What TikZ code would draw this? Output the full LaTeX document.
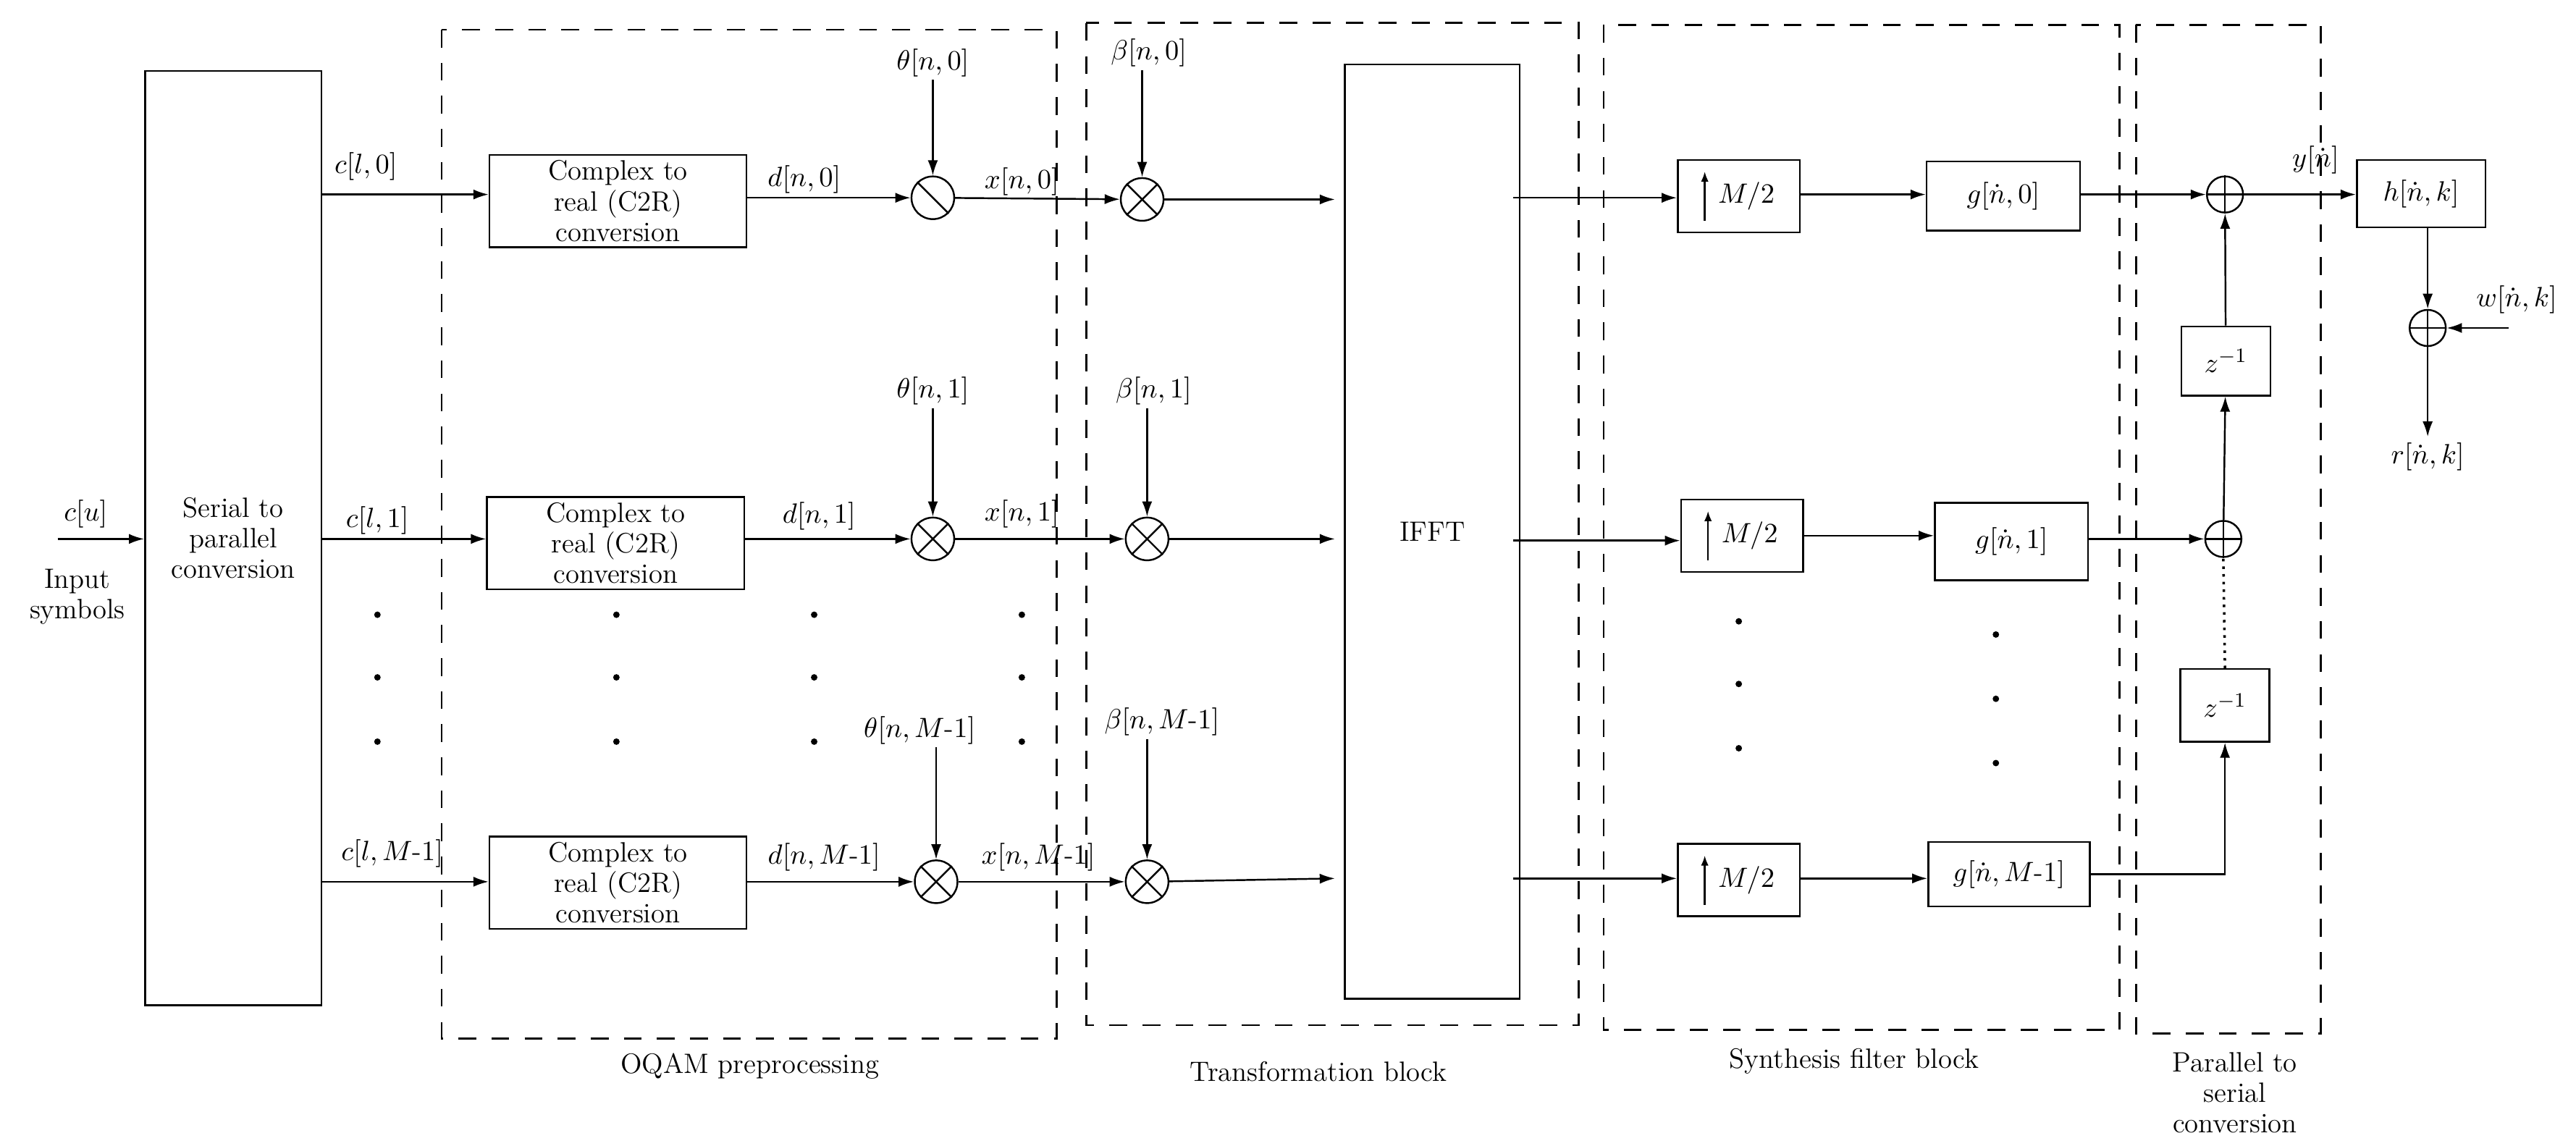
\documentclass[tikz,border=0pt]{standalone}
\usetikzlibrary{arrows.meta}
\newcommand{\mo}{\mbox{-}}
\newcommand{\fs}{\fontsize{11}{12}\selectfont}
\begin{document}
\begin{tikzpicture}[x=0.02277cm,y=-0.02277cm,line width=0.7pt,
  box/.style={draw,rectangle,inner sep=0pt,align=center,font=\fs},
  arr/.style={-{Latex[length=6pt,width=4pt]}},
  circ/.style={draw,circle,minimum size=0.59cm,inner sep=0pt},
  lab/.style={font=\fs,inner sep=1pt},
  dsh/.style={dash pattern=on 7pt off 6pt,line width=0.8pt},
  dot/.style={circle,fill,inner sep=0.9pt}]
\useasboundingbox (0,0) rectangle (1563,692);
% dashed blocks
\draw[dsh] (268,18) rectangle (641,630);
\draw[dsh] (659,14) rectangle (958,622);
\draw[dsh] (973,15) rectangle (1286,625);
\draw[dsh] (1296,15) rectangle (1408,627);
\node[lab] (l1) at (455,647) {OQAM preprocessing};
\node[lab] (l2) at (800,650) {Transformation block};
\node[lab] (l3) at (1125,644) {Synthesis filter block};
\node[lab,align=center] (l4) at (1356,663) {Parallel to\\serial\\conversion};
% S/P
\node[box,minimum width=107*0.02277cm,minimum height=567*0.02277cm] (sp) at (141.5,326.5) {Serial to\\parallel\\conversion};
\coordinate (in) at (35,327);
\draw[arr] (in) -- (in -| sp.west);
\node[lab] (cu) at (52,312) {$c[u]$};
\node[lab,align=center] (is) at (47,362) {Input\\symbols};
% C2R boxes
\foreach \n/\x/\y in {c0/375/122,c1/373.5/329.5,c2/375/535.5}
  \node[box,minimum width=156*0.02277cm,minimum height=56*0.02277cm] (\n) at (\x,\y) {Complex to\\real (C2R)\\conversion};
\draw[arr] (sp.east |- 0,118) -- (c0.west |- 0,118);
\draw[arr] (sp.east |- 0,327) -- (c1.west |- 0,327);
\draw[arr] (sp.east |- 0,535) -- (c2.west |- 0,535);
\node[lab] at (222,101) {$c[l,0]$};
\node[lab] at (229,316) {$c[l,1]$};
\node[lab] at (238,518) {$c[l,M\mo1]$};
% theta circles
\node[circ] (t0) at (566,120) {};
\draw (t0.north west) -- (t0.south east);
\node[circ] (t1) at (566,327) {};
\node[circ] (t2) at (568,535) {};
\foreach \t in {t1,t2} \draw (\t.north west) -- (\t.south east) (\t.north east) -- (\t.south west);
\draw[arr] (c0.east |- t0) -- (t0);
\draw[arr] (c1.east |- t1) -- (t1);
\draw[arr] (c2.east |- t2) -- (t2);
\node[lab] at (488,109) {$d[n,0]$};
\node[lab] at (497,313) {$d[n,1]$};
\node[lab] at (500,520) {$d[n,M\mo1]$};
\node[lab] (th0) at (566,38) {$\theta[n,0]$};
\node[lab] (th1) at (566,237) {$\theta[n,1]$};
\node[lab] (th2) at (558,443) {$\theta[n,M\mo1]$};
\draw[arr] (th0.south -| t0) -- (t0);
\draw[arr] (th1.south -| t1) -- (t1);
\draw[arr] (th2.south -| t2) -- (t2);
% beta multipliers
\node[circ] (b0) at (693,121) {};
\node[circ] (b1) at (696,327) {};
\node[circ] (b2) at (696,535) {};
\foreach \t in {b0,b1,b2} \draw (\t.north west) -- (\t.south east) (\t.north east) -- (\t.south west);
\draw[arr] (t0) -- (b0);
\draw[arr] (t1) -- (b1);
\draw[arr] (t2) -- (b2);
\node[lab] at (620,110) {$x[n,0]$};
\node[lab] at (620,312) {$x[n,1]$};
\node[lab] at (630,520) {$x[n,M\mo1]$};
\node[lab] (be0) at (697,32) {$\beta[n,0]$};
\node[lab] (be1) at (700,237) {$\beta[n,1]$};
\node[lab] (be2) at (705,438) {$\beta[n,M\mo1]$};
\draw[arr] (be0.south -| b0) -- (b0);
\draw[arr] (be1.south -| b1) -- (b1);
\draw[arr] (be2.south -| b2) -- (b2);
% IFFT
\node[box,minimum width=106*0.02277cm,minimum height=567*0.02277cm] (ifft) at (869,322.5) {IFFT};
\coordinate (i0) at (810,121); \coordinate (i1) at (810,327); \coordinate (i2) at (810,533);
\draw[arr] (b0) -- (i0);
\draw[arr] (b1) -- (i1);
\draw[arr] (b2) -- (i2);
% upsamplers
\foreach \n/\x/\y in {u0/1055/119,u1/1057/325,u2/1055/534}
  \node[box,minimum width=74*0.02277cm,minimum height=44*0.02277cm] (\n) at (\x,\y) {\hspace{6pt}$M/2$};
\foreach \n in {u0,u1,u2} \draw[-{Latex[length=4pt,width=3pt]}] ([xshift=-0.47cm,yshift=-0.34cm]\n.center) -- ([xshift=-0.47cm,yshift=0.34cm]\n.center);
\coordinate (o0) at (918,120); \coordinate (o1) at (918,328); \coordinate (o2) at (918,533);
\draw[arr] (o0) -- (o0 -| u0.west);
\draw[arr] (o1) -- (o1 -| u1.west);
\draw[arr] (o2) -- (o2 -| u2.west);
% g filters
\node[box,minimum width=93*0.02277cm,minimum height=42*0.02277cm] (g0) at (1215.5,119) {$g[\dot n,0]$};
\node[box,minimum width=93*0.02277cm,minimum height=47*0.02277cm] (g1) at (1220.5,328.5) {$g[\dot n,1]$};
\node[box,minimum width=98*0.02277cm,minimum height=39*0.02277cm] (g2) at (1219,530.5) {$g[\dot n,M\mo1]$};
\draw[arr] (u0.east |- 0,118) -- (g0.west |- 0,118);
\draw[arr] (u1.east |- 0,325) -- (g1.west |- 0,325);
\draw[arr] (u2.east |- 0,533) -- (g2.west |- 0,533);
% adders, delays
\node[circ,minimum size=0.5cm] (a0) at (1350,118) {};
\node[circ,minimum size=0.5cm] (a1) at (1349,327) {};
\foreach \t in {a0,a1} \draw (\t.north) -- (\t.south) (\t.west) -- (\t.east);
\node[box,minimum width=54*0.02277cm,minimum height=42*0.02277cm] (z0) at (1350.5,219) {$z^{-1}$};
\node[box,minimum width=54*0.02277cm,minimum height=44*0.02277cm] (z1) at (1350,428) {$z^{-1}$};
\draw[arr] (g0.east |- a0) -- (a0);
\draw[arr] (g1.east |- a1) -- (a1);
\draw[arr] (g2.east) -| (z1.south);
\draw[dotted,line width=1pt] (z1.north) -- (a1.south);
\draw[arr] (a1) -- (z0);
\draw[arr] (z0) -- (a0);
% channel
\node[box,minimum width=78*0.02277cm,minimum height=41*0.02277cm] (h) at (1469,117.5) {$h[\dot n,k]$};
\draw[arr] (a0) -- (h.west |- a0);
\node[lab] at (1405,97) {$y[\dot n]$};
\node[circ,minimum size=0.5cm] (a2) at (1473,199) {};
\draw (a2.north) -- (a2.south) (a2.west) -- (a2.east);
\draw[arr] (h.south -| a2) -- (a2);
\coordinate (wi) at (1522,199);
\draw[arr] (wi) -- (a2);
\node[lab] at (1527,182) {$w[\dot n,k]$};
\coordinate (ro) at (1473,265);
\draw[arr] (a2) -- (ro);
\node[lab] at (1473,277) {$r[\dot n,k]$};
% dots
\foreach \x in {229,374,494,620} \foreach \y in {373,411,450} \node[dot] at (\x,\y) {};
\foreach \y in {377,415,454} \node[dot] at (1055,\y) {};
\foreach \y in {385,424,463} \node[dot] at (1211,\y) {};
\end{tikzpicture}
\end{document}
